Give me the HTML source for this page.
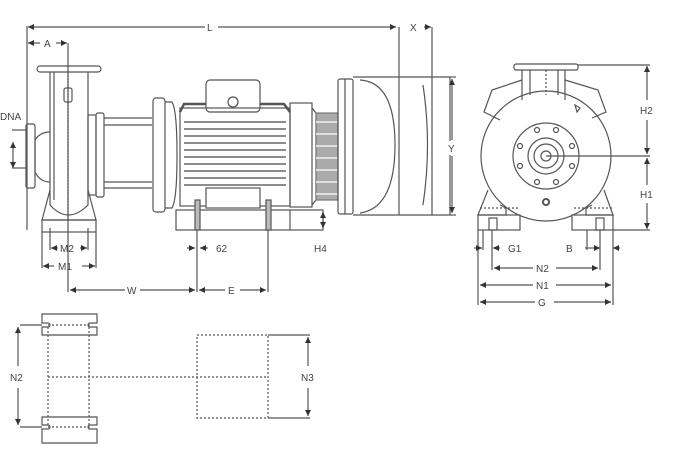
<!DOCTYPE html>
<html><head><style>
html,body{margin:0;padding:0;background:#fff;width:681px;height:464px;overflow:hidden}
svg text{font-family:"Liberation Sans",sans-serif;font-size:10px;fill:#444}
</style></head><body>
<svg width="681" height="464" viewBox="0 0 681 464" xmlns="http://www.w3.org/2000/svg" fill="none" stroke="#555" stroke-width="1.2">
<defs><marker id="a" viewBox="0 0 6 6" refX="6" refY="3" markerWidth="5" markerHeight="5" orient="auto-start-reverse"><path d="M0,0L6,3L0,6z" fill="#333" stroke="none"/></marker></defs>
<line x1="27" y1="26" x2="27" y2="230"/>
<line x1="28" y1="27" x2="205" y2="27" marker-start="url(#a)"/><text x="207" y="31" stroke="none">L</text>
<line x1="218" y1="27" x2="396" y2="27" marker-end="url(#a)"/>
<line x1="399" y1="27" x2="399" y2="215"/><line x1="432" y1="27" x2="432" y2="215"/>
<text x="410" y="31" stroke="none">X</text><line x1="424" y1="27" x2="431" y2="27" marker-end="url(#a)"/>
<line x1="28" y1="43" x2="40" y2="43" marker-start="url(#a)"/><text x="44" y="47" stroke="none">A</text><line x1="56" y1="43" x2="67" y2="43" marker-end="url(#a)"/>
<line x1="68" y1="43" x2="68" y2="292"/>
<rect x="37" y="66" width="64" height="6" rx="3"/>
<path d="M50 72 V205 Q68 225 88 205 V72"/>
<line x1="54" y1="72" x2="54" y2="200"/>
<line x1="68" y1="72" x2="68" y2="220" stroke-dasharray="2,1"/>
<rect x="64" y="88" width="8" height="14" rx="2"/>
<rect x="26" y="124" width="9" height="64" rx="2"/>
<path d="M35 140 Q40 132 50 132 M35 172 Q40 182 50 182"/>
<line x1="35" y1="140" x2="35" y2="172"/>
<text x="0" y="120" stroke="none">DNA</text>
<line x1="12" y1="130" x2="26" y2="130"/><line x1="12" y1="168" x2="26" y2="168"/>
<line x1="13" y1="142" x2="13" y2="168" marker-start="url(#a)" marker-end="url(#a)"/>
<path d="M50 190 L42 220 H96 L88 190"/>
<rect x="42" y="220" width="54" height="12"/>
<line x1="50" y1="228" x2="50" y2="250"/><line x1="88" y1="228" x2="88" y2="250"/>
<line x1="42" y1="232" x2="42" y2="268"/><line x1="96" y1="232" x2="96" y2="268"/>
<line x1="51" y1="248" x2="58" y2="248" marker-start="url(#a)"/><text x="60" y="252" stroke="none">M2</text><line x1="80" y1="248" x2="87" y2="248" marker-end="url(#a)"/>
<line x1="43" y1="266" x2="54" y2="266" marker-start="url(#a)"/><text x="58" y="270" stroke="none">M1</text><line x1="82" y1="266" x2="95" y2="266" marker-end="url(#a)"/>
<rect x="88" y="115" width="8" height="80"/>
<rect x="96" y="113" width="8" height="84" rx="2"/>
<line x1="104" y1="118" x2="152" y2="118"/><line x1="104" y1="125" x2="152" y2="125"/>
<line x1="104" y1="182" x2="152" y2="182"/><line x1="104" y1="188" x2="152" y2="188"/>
<rect x="153" y="98" width="12" height="114" rx="3"/>
<path d="M165 102 H172 Q177 110 177 155 Q177 200 172 208 H165"/>
<rect x="206" y="80" width="54" height="32" rx="4"/>
<circle cx="233" cy="102" r="5"/>
<path d="M180 112 L184 104 H206 M260 104 H284 L290 112" stroke-width="2.5"/>
<rect x="180" y="108" width="110" height="98"/>
<g stroke="#666" stroke-width="1.6">
<line x1="184" y1="122" x2="286" y2="122"/><line x1="184" y1="129" x2="286" y2="129"/><line x1="184" y1="136" x2="286" y2="136"/><line x1="184" y1="143" x2="286" y2="143"/><line x1="184" y1="150" x2="286" y2="150"/><line x1="184" y1="157" x2="286" y2="157"/><line x1="184" y1="164" x2="286" y2="164"/><line x1="184" y1="171" x2="286" y2="171"/><line x1="184" y1="178" x2="286" y2="178"/><line x1="184" y1="185" x2="286" y2="185"/>
</g>
<rect x="206" y="188" width="54" height="20" fill="#fff"/>
<rect x="290" y="103" width="22" height="104"/>
<path d="M312 108 L316 113 V200 L312 205"/>
<rect x="316" y="113" width="22" height="87" fill="#aaa" stroke="#777"/>
<g stroke="#fff"><line x1="316" y1="122" x2="338" y2="122"/><line x1="316" y1="134" x2="338" y2="134"/><line x1="316" y1="146" x2="338" y2="146"/><line x1="316" y1="158" x2="338" y2="158"/><line x1="316" y1="170" x2="338" y2="170"/><line x1="316" y1="182" x2="338" y2="182"/><line x1="316" y1="194" x2="338" y2="194"/></g>
<rect x="176" y="210" width="147" height="20"/><line x1="290" y1="210" x2="290" y2="230"/>
<rect x="195" y="200" width="5" height="30" fill="#bbb"/><rect x="266" y="200" width="5" height="30" fill="#bbb"/>
<line x1="197" y1="230" x2="197" y2="292"/><line x1="268" y1="230" x2="268" y2="292"/>
<line x1="187" y1="248" x2="195" y2="248" marker-end="url(#a)"/><line x1="208" y1="248" x2="200" y2="248" marker-end="url(#a)"/><text x="216" y="252" stroke="none">62</text>
<line x1="323" y1="212" x2="323" y2="228" marker-start="url(#a)" marker-end="url(#a)"/><text x="314" y="252" stroke="none">H4</text>
<line x1="70" y1="290" x2="125" y2="290" marker-start="url(#a)"/><text x="127" y="294" stroke="none">W</text><line x1="140" y1="290" x2="195" y2="290" marker-end="url(#a)"/>
<line x1="199" y1="290" x2="225" y2="290" marker-start="url(#a)"/><text x="228" y="294" stroke="none">E</text><line x1="240" y1="290" x2="266" y2="290" marker-end="url(#a)"/>
<rect x="338" y="79" width="15" height="135" rx="2"/>
<line x1="345" y1="79" x2="345" y2="214"/>
<path d="M353 77 H450 V215 H353"/>
<path d="M360 80 Q395 82 395 145 Q395 208 360 213"/>
<path d="M423 85 Q432 145 423 205"/>
<line x1="450" y1="77" x2="456" y2="77"/><line x1="450" y1="215" x2="456" y2="215"/>
<line x1="452" y1="79" x2="452" y2="140" marker-start="url(#a)"/><rect x="446" y="141" width="12" height="14" fill="#fff" stroke="none"/><text x="448" y="152" stroke="none">Y</text><line x1="452" y1="156" x2="452" y2="213" marker-end="url(#a)"/>
<rect x="514" y="64" width="64" height="6" rx="2"/>
<path d="M522 70 V100 M565 70 V100 M530 70 V95 M558 70 V95"/>
<line x1="546" y1="70" x2="546" y2="95" stroke-dasharray="2,2"/>
<path d="M522 80 L492 90 L484 112 L500 120 M565 80 L598 90 L606 112 L592 118"/>
<circle cx="546" cy="156" r="65"/>
<circle cx="546" cy="156" r="33"/><circle cx="546" cy="156" r="18"/><circle cx="546" cy="156" r="12"/><circle cx="546" cy="156" r="5"/>
<g><circle cx="537" cy="130" r="2.5"/><circle cx="556" cy="130" r="2.5"/><circle cx="520" cy="146" r="2.5"/><circle cx="572" cy="146" r="2.5"/><circle cx="520" cy="166" r="2.5"/><circle cx="572" cy="166" r="2.5"/><circle cx="537" cy="182" r="2.5"/><circle cx="556" cy="182" r="2.5"/></g>
<circle cx="546" cy="202" r="3" stroke-width="2"/>
<path d="M575 105 l5 3 l-3 4z"/>
<line x1="546" y1="156" x2="650" y2="156"/>
<path d="M488 190 L478 215 H506 V208 L500 205"/>
<path d="M604 190 L613 215 H586 V208 L592 205"/>
<rect x="478" y="215" width="42" height="15"/><rect x="572" y="215" width="41" height="15"/>
<line x1="480" y1="208" x2="518" y2="208" stroke-dasharray="2,2"/><line x1="574" y1="208" x2="612" y2="208" stroke-dasharray="2,2"/>
<rect x="489" y="218" width="8" height="12"/><rect x="596" y="218" width="8" height="12"/>
<line x1="578" y1="65" x2="650" y2="65"/><line x1="613" y1="230" x2="650" y2="230"/>
<line x1="647" y1="66" x2="647" y2="100" marker-start="url(#a)"/><text x="640" y="114" stroke="none">H2</text><line x1="647" y1="120" x2="647" y2="154" marker-end="url(#a)"/>
<line x1="647" y1="158" x2="647" y2="185" marker-start="url(#a)"/><text x="640" y="198" stroke="none">H1</text><line x1="647" y1="203" x2="647" y2="229" marker-end="url(#a)"/>
<line x1="478" y1="230" x2="478" y2="305"/><line x1="613" y1="230" x2="613" y2="305"/>
<line x1="492" y1="230" x2="492" y2="270"/><line x1="600" y1="230" x2="600" y2="270"/>
<line x1="483" y1="230" x2="483" y2="250"/><line x1="587" y1="230" x2="587" y2="250"/>
<line x1="474" y1="248" x2="482" y2="248" marker-end="url(#a)"/><line x1="500" y1="248" x2="493" y2="248" marker-end="url(#a)"/><text x="508" y="252" stroke="none">G1</text>
<text x="566" y="252" stroke="none">B</text><line x1="585" y1="248" x2="600" y2="248" marker-end="url(#a)"/><line x1="620" y1="248" x2="613" y2="248" marker-end="url(#a)"/>
<line x1="494" y1="268" x2="533" y2="268" marker-start="url(#a)"/><text x="536" y="272" stroke="none">N2</text><line x1="556" y1="268" x2="598" y2="268" marker-end="url(#a)"/>
<line x1="480" y1="285" x2="533" y2="285" marker-start="url(#a)"/><text x="536" y="289" stroke="none">N1</text><line x1="556" y1="285" x2="611" y2="285" marker-end="url(#a)"/>
<line x1="480" y1="302" x2="535" y2="302" marker-start="url(#a)"/><text x="538" y="306" stroke="none">G</text><line x1="554" y1="302" x2="611" y2="302" marker-end="url(#a)"/>
<path d="M42 314 H97 V323 H90 a2 2 0 0 0 0 4 H97 V335 H42 V327 H48 a2 2 0 0 0 0 -4 H42 Z"/>
<path d="M42 417 H97 V425 H90 a2 2 0 0 0 0 4 H97 V443 H42 V429 H48 a2 2 0 0 0 0 -4 H42 Z"/>
<g stroke-dasharray="2,2"><line x1="48" y1="325" x2="90" y2="325"/><line x1="48" y1="427" x2="90" y2="427"/>
<line x1="48" y1="327" x2="48" y2="425"/><line x1="89" y1="327" x2="89" y2="425"/>
<line x1="48" y1="377" x2="268" y2="377"/>
<rect x="197" y="335" width="71" height="83"/></g>
<line x1="20" y1="325" x2="42" y2="325"/><line x1="20" y1="427" x2="42" y2="427"/>
<line x1="18" y1="327" x2="18" y2="366" marker-start="url(#a)"/><text x="10" y="381" stroke="none">N2</text><line x1="18" y1="388" x2="18" y2="425" marker-end="url(#a)"/>
<line x1="268" y1="335" x2="310" y2="335"/><line x1="268" y1="418" x2="310" y2="418"/>
<line x1="308" y1="337" x2="308" y2="366" marker-start="url(#a)"/><text x="301" y="381" stroke="none">N3</text><line x1="308" y1="388" x2="308" y2="416" marker-end="url(#a)"/>
</svg>
</body></html>
